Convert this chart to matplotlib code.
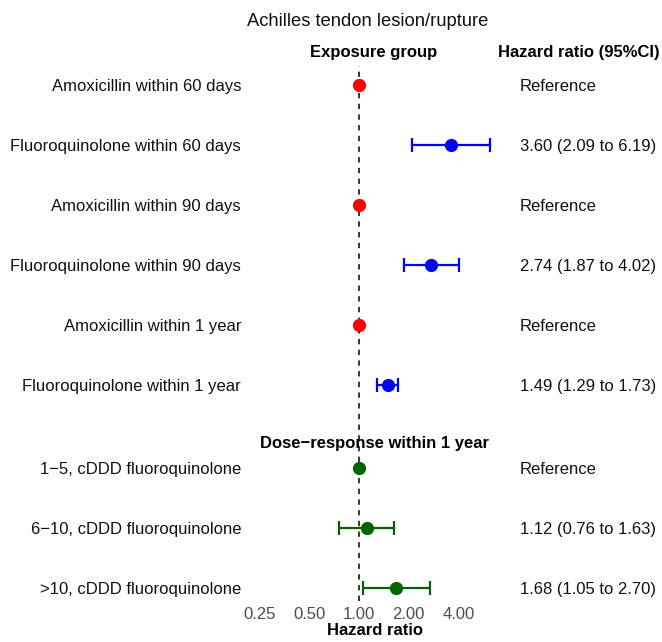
import numpy as np
import matplotlib
matplotlib.use("Agg")
import matplotlib.pyplot as plt
import matplotlib.transforms as mtransforms

plt.rcParams['font.family'] = ['Liberation Sans', 'DejaVu Sans']

title = "Achilles tendon lesion/rupture"
labels = [
    "Amoxicillin within 60 days",
    "Fluoroquinolone within 60 days",
    "Amoxicillin within 90 days",
    "Fluoroquinolone within 90 days",
    "Amoxicillin within 1 year",
    "Fluoroquinolone within 1 year",
    "1\u22125, cDDD fluoroquinolone",
    "6\u221210, cDDD fluoroquinolone",
    ">10, cDDD fluoroquinolone",
]
hr = [1.00, 3.60, 1.00, 2.74, 1.00, 1.49, 1.00, 1.12, 1.68]
lo = [np.nan, 2.09, np.nan, 1.87, np.nan, 1.29, np.nan, 0.76, 1.05]
hi = [np.nan, 6.19, np.nan, 4.02, np.nan, 1.73, np.nan, 1.63, 2.70]
hr_text = ["Reference", "3.60 (2.09 to 6.19)", "Reference", "2.74 (1.87 to 4.02)",
           "Reference", "1.49 (1.29 to 1.73)", "Reference", "1.12 (0.76 to 1.63)",
           "1.68 (1.05 to 2.70)"]
groups = ["amox", "fq", "amox", "fq", "amox", "fq", "dose", "dose", "dose"]
xticks = [0.25, 0.5, 1, 2, 4]
xtick_labels = ["0.25", "0.50", "1.00", "2.00", "4.00"]

colors = {"amox": "#FF0000", "fq": "#0000FF", "dose": "#006400"}
text_color = "#111111"

W, H = 662, 642
fig = plt.figure(figsize=(W / 100, H / 100), dpi=100)

# axes in pixel geometry
ax_left, ax_right, ax_top, ax_bottom = 240, 510, 66, 601
ax = fig.add_axes([ax_left / W, 1 - ax_bottom / H, (ax_right - ax_left) / W, (ax_bottom - ax_top) / H])

px1, ppd = 359.0, 49.75  # pixel of 1.00, pixels per doubling
ax.set_xscale('log', base=2)
ax.set_xlim(2 ** ((ax_left - px1) / ppd), 2 ** ((ax_right - px1) / ppd))

row0, rstep = 85.0, 60.0
ax.set_ylim((ax_bottom - row0) / rstep, (ax_top - row0) / rstep)

gap = 0.383
ypos = [i if i < 6 else i + gap for i in range(len(labels))]

ax.axvline(1.0, color='black', lw=1.1, ls=(0, (3.5, 3.5)), zorder=1)

for y, h, l, u, g in zip(ypos, hr, lo, hi, groups):
    c = colors[g]
    if not np.isnan(l):
        ax.errorbar(h, y, xerr=[[h - l], [u - h]], fmt='none', ecolor=c,
                    elinewidth=1.6, capsize=4.7, capthick=1.6, zorder=2)
    ax.plot(h, y, 'o', color=c, markersize=8.5, zorder=3)

ax.set_xticks(xticks)
ax.set_xticklabels(xtick_labels)
ax.xaxis.set_minor_locator(matplotlib.ticker.NullLocator())
ax.tick_params(axis='x', length=0, labelsize=12, pad=4, labelcolor='#4D4D4D')
ax.set_yticks([])
for s in ax.spines.values():
    s.set_visible(False)
ax.patch.set_alpha(0)
ax.set_xlabel("Hazard ratio", fontsize=12, fontweight='bold', labelpad=1, color='black')

trans = mtransforms.blended_transform_factory(fig.transFigure, ax.transData)
for y, lab, t in zip(ypos, labels, hr_text):
    fig.text(241 / W, y, lab, transform=trans, ha='right', va='center_baseline',
             fontsize=12, color=text_color)
    fig.text(520 / W, y, t, transform=trans, ha='left', va='center_baseline',
             fontsize=12, color=text_color)

fig.text(374 / W, (442 - row0) / rstep, "Dose\u2212response within 1 year", transform=trans,
         ha='center', va='center_baseline', fontsize=12, fontweight='bold')
fig.text(374 / W, 1 - 51 / H, "Exposure group", ha='center', va='center_baseline',
         fontsize=12, fontweight='bold')
fig.text(579 / W, 1 - 51 / H, "Hazard ratio (95%CI)", ha='center', va='center_baseline',
         fontsize=12, fontweight='bold')
fig.text(368 / W, 1 - 19 / H, title, ha='center', va='center_baseline', fontsize=13.2,
         color=text_color)

fig.savefig("out.png", dpi=100)
